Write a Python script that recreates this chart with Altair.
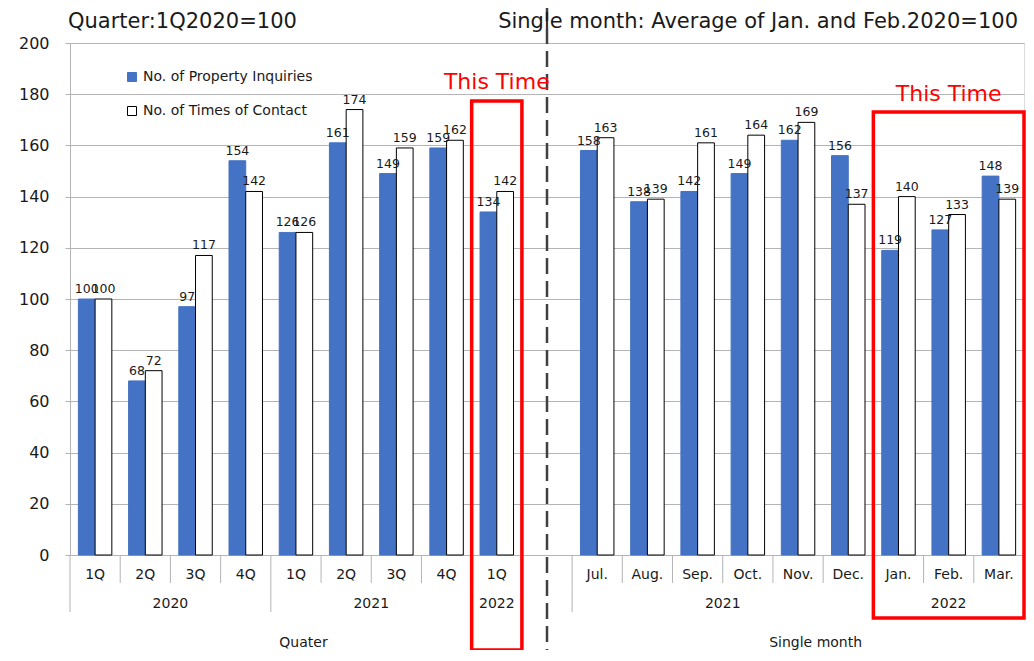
import altair as alt
import pandas as pd

# ---------------- data ----------------
series = ["No. of Property Inquiries", "No. of Times of Contact"]

q_labels = ["1Q", "2Q", "3Q", "4Q", "1Q", "2Q", "3Q", "4Q", "1Q"]
q_years = ["2020", "2020", "2020", "2020", "2021", "2021", "2021", "2021", "2022"]
q_inquiries = [100, 68, 97, 154, 126, 161, 149, 159, 134]
q_contact = [100, 72, 117, 142, 126, 174, 159, 162, 142]

m_labels = ["Jul.", "Aug.", "Sep.", "Oct.", "Nov.", "Dec.", "Jan.", "Feb.", "Mar."]
m_years = ["2021", "2021", "2021", "2021", "2021", "2021", "2022", "2022", "2022"]
m_inquiries = [158, 138, 142, 149, 162, 156, 119, 127, 148]
m_contact = [163, 139, 161, 164, 169, 137, 140, 133, 139]

title_left = "Quarter:1Q2020=100"
title_right = "Single month: Average of Jan. and Feb.2020=100"
section_labels = ["Quater", "Single month"]
highlight_text = "This Time"

# ---------------- tables ----------------
cat_labels = q_labels + [""] + m_labels
keys = [f"c{i}" for i in range(len(cat_labels))]
q_keys = keys[:9]
gap_key = keys[9]
m_keys = keys[10:]

rows = []
for k, a, b in zip(q_keys + m_keys, q_inquiries + m_inquiries, q_contact + m_contact):
    rows.append({"key": k, "series": series[0], "value": a})
    rows.append({"key": k, "series": series[1], "value": b})
bars_df = pd.DataFrame(rows)

cat_df = pd.DataFrame({"key": q_keys + m_keys, "label": q_labels + m_labels})

W, H = 954, 512
BLUE = "#4472C4"
FONT = "DejaVu Sans"
TXT = "#1a1a1a"
GRID = "#b4b4b4"

xs = alt.Scale(type="band", domain=keys, paddingInner=0, paddingOuter=0)


def X(bp=None):
    if bp is None:
        return alt.X("key:N", scale=xs, axis=None)
    return alt.X("key:N", scale=xs, axis=None, bandPosition=bp)


y_axis = alt.Axis(
    values=list(range(0, 201, 20)), grid=True, gridColor=GRID,
    domainColor=GRID, tickColor=GRID, tickSize=5,
    labelFontSize=16, labelColor=TXT, labelPadding=16,
    labelFont=FONT, title=None,
)

legend = alt.Legend(
    title=None, orient="none", legendX=55, legendY=27, symbolType="square",
    symbolSize=81, symbolStrokeWidth=1, labelFontSize=14, labelFont=FONT,
    labelColor=TXT, labelOffset=4, rowPadding=20, padding=0, labelLimit=0,
)

xoff = alt.XOffset("series:N", scale=alt.Scale(domain=series, paddingOuter=0.5, paddingInner=0))
base_bars = alt.Chart(bars_df)

bars = base_bars.mark_bar(strokeWidth=1).encode(
    x=X(),
    xOffset=xoff,
    y=alt.Y("value:Q", scale=alt.Scale(domain=[0, 200]), axis=y_axis),
    fill=alt.Fill("series:N", scale=alt.Scale(domain=series, range=[BLUE, "white"]), legend=legend),
    stroke=alt.Stroke("series:N", scale=alt.Scale(domain=series, range=[BLUE, "black"]), legend=legend),
)

value_labels = base_bars.mark_text(fontSize=12.5, font=FONT, baseline="bottom", dy=-3, color=TXT).encode(
    x=X(),
    xOffset=xoff,
    y=alt.Y("value:Q", scale=alt.Scale(domain=[0, 200])),
    text="value:Q",
)

# category labels
cat_text = alt.Chart(cat_df).mark_text(fontSize=14, font=FONT, color=TXT, baseline="middle").encode(
    x=X(), y=alt.value(H + 20), text="label:N"
)

# year labels (multi-level axis)
yr_a = pd.DataFrame({"key": [q_keys[1], q_keys[5], m_keys[2]], "label": [q_years[0], q_years[4], m_years[0]]})
yr_b = pd.DataFrame({"key": [q_keys[8], m_keys[7]], "label": [q_years[8], m_years[7]]})
year_text_a = alt.Chart(yr_a).mark_text(fontSize=14, font=FONT, color=TXT, baseline="middle").encode(
    x=X(1), y=alt.value(H + 49), text="label:N"
)
year_text_b = alt.Chart(yr_b).mark_text(fontSize=14, font=FONT, color=TXT, baseline="middle").encode(
    x=X(0.5), y=alt.value(H + 49), text="label:N"
)

sec_a = pd.DataFrame({"key": [q_keys[4]], "label": [section_labels[0]]})
sec_b = pd.DataFrame({"key": [m_keys[4]], "label": [section_labels[1]]})
sec_text_a = alt.Chart(sec_a).mark_text(fontSize=14, font=FONT, color=TXT, baseline="middle").encode(
    x=X(0.65), y=alt.value(H + 88), text="label:N"
)
sec_text_b = alt.Chart(sec_b).mark_text(fontSize=14, font=FONT, color=TXT, baseline="middle").encode(
    x=X(0.85), y=alt.value(H + 88), text="label:N"
)

# axis tick lines
short_keys = [keys[i] for i in [1, 2, 3, 5, 6, 7, 11, 12, 13, 14, 15, 17, 18]]
long_keys = [keys[i] for i in [0, 4, 8, 9, 10, 16]]
short_ticks = alt.Chart(pd.DataFrame({"key": short_keys})).mark_rule(color=GRID, strokeWidth=1).encode(
    x=X(0), y=alt.value(H), y2=alt.value(H + 28)
)
long_ticks = alt.Chart(pd.DataFrame({"key": long_keys})).mark_rule(color=GRID, strokeWidth=1).encode(
    x=X(0), y=alt.value(H), y2=alt.value(H + 57)
)
end_tick = alt.Chart(pd.DataFrame({"key": [keys[18]]})).mark_rule(color=GRID, strokeWidth=1).encode(
    x=X(1), y=alt.value(H), y2=alt.value(H + 57)
)

# dashed divider
divider = alt.Chart(pd.DataFrame({"key": [gap_key]})).mark_rule(
    color="#404040", strokeWidth=2.5, strokeDash=[16, 7]
).encode(x=X(0.5), y=alt.value(-38), y2=alt.value(H + 95))

# highlight boxes
box_left = alt.Chart(pd.DataFrame({"key": [q_keys[8]]})).mark_rect(
    fill=None, filled=False, stroke="red", strokeWidth=3.5
).encode(x=X(), y=alt.value(58), y2=alt.value(607))

box_right = alt.Chart(pd.DataFrame({"key": [m_keys[6]], "key2": [m_keys[8]]})).mark_rect(
    fill=None, filled=False, stroke="red", strokeWidth=3.5
).encode(
    x=X(0), x2=alt.X2("key2", bandPosition=1), y=alt.value(69), y2=alt.value(575)
)

tt_left = alt.Chart(pd.DataFrame({"key": [q_keys[8]], "label": [highlight_text]})).mark_text(
    fontSize=22, font=FONT, color="red", baseline="middle"
).encode(x=X(0.5), y=alt.value(39), text="label:N")
tt_right = alt.Chart(pd.DataFrame({"key": [m_keys[7]], "label": [highlight_text]})).mark_text(
    fontSize=22, font=FONT, color="red", baseline="middle"
).encode(x=X(0.5), y=alt.value(51), text="label:N")

# titles
titles = alt.Chart(pd.DataFrame({"t": [title_left]})).mark_text(
    fontSize=21, font=FONT, color=TXT, baseline="middle", align="left"
).encode(x=alt.value(-2), y=alt.value(-21), text="t:N")
titles_r = alt.Chart(pd.DataFrame({"t": [title_right]})).mark_text(
    fontSize=21, font=FONT, color=TXT, baseline="middle", align="right"
).encode(x=alt.value(W - 6), y=alt.value(-21), text="t:N")

chart = alt.layer(
    short_ticks, long_ticks, end_tick, bars, value_labels, cat_text, year_text_a, year_text_b,
    sec_text_a, sec_text_b, divider, box_left, box_right, tt_left, tt_right, titles, titles_r,
).properties(
    width=W, height=H,
    autosize=alt.AutoSizeParams(type="none"),
    padding={"left": 62, "top": 35, "right": 2, "bottom": 95},
).configure_view(stroke=None).configure(font=FONT)

chart.save("out.html", embed_options={"renderer": "svg", "actions": False})
